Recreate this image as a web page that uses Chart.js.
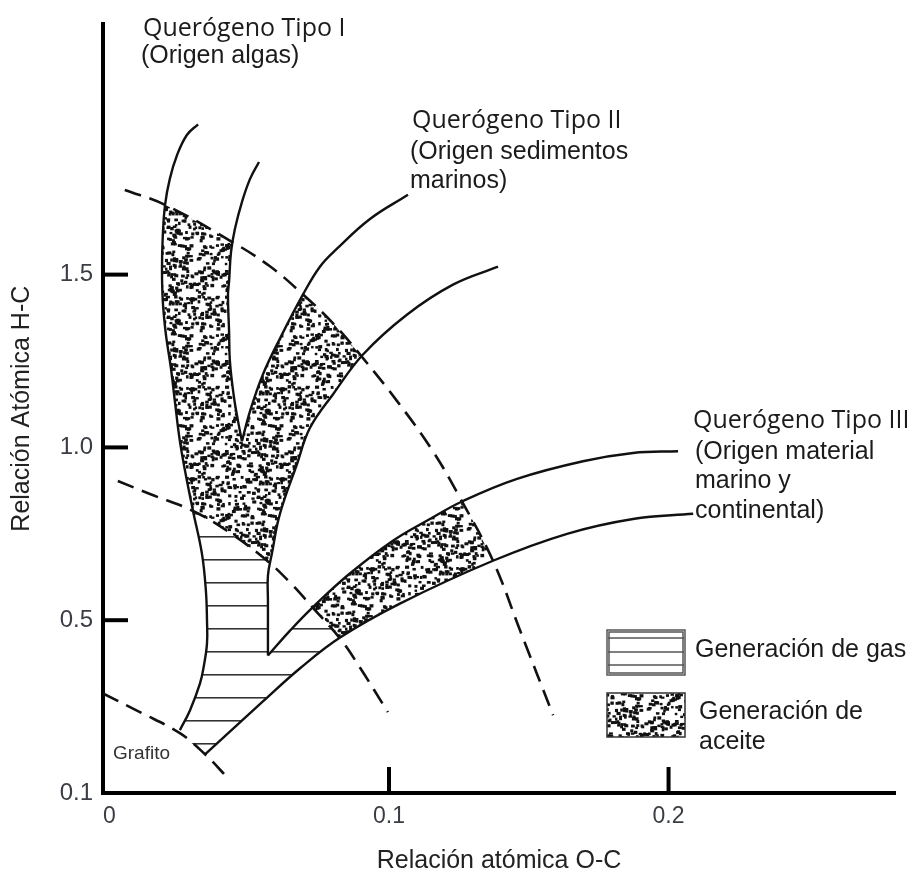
<!DOCTYPE html>
<html>
<head>
<meta charset="utf-8">
<script src="https://cdn.jsdelivr.net/npm/chart.js@4.4.1/dist/chart.umd.min.js"></script>
<style>
body{margin:0;background:#fff;overflow:hidden}
canvas{display:block}
</style>
</head>
<body>
<canvas id="myChart" width="911" height="874"></canvas>
<script>
// ticks (bottom of the H-C axis is printed as 0.1 in the original)
var xTickVals=[0,0.1,0.2];
var xTickLabels=['0','0.1','0.2'];
var yTickVals=[0,0.5,1.0,1.5];
var yTickLabels=['0.1','0.5','1.0','1.5'];

// evolution paths, points are [O-C, H-C]
var typeILeft=[[0.0317,1.935],[0.0277,1.904],[0.0242,1.846],[0.0216,1.777],[0.0199,1.702],[0.0191,1.615],[0.0188,1.517],[0.0191,1.422],[0.0202,1.327],[0.0220,1.229],[0.0234,1.134],[0.0252,1.018],[0.0274,0.917],[0.0299,0.816],[0.0331,0.692],[0.0345,0.586],[0.0349,0.499],[0.0349,0.433],[0.0338,0.369],[0.0324,0.317],[0.0288,0.239],[0.0252,0.182]];
var typeIRight=[[0.0535,1.826],[0.0503,1.777],[0.0474,1.710],[0.0449,1.633],[0.0435,1.566],[0.0428,1.480],[0.0424,1.442],[0.0428,1.335],[0.0431,1.249],[0.0445,1.148],[0.0460,1.076],[0.0474,1.018]];
var typeIILeft=[[0.1068,1.731],[0.0932,1.661],[0.0814,1.575],[0.0753,1.523],[0.0692,1.442],[0.0610,1.315],[0.0549,1.211],[0.0503,1.105],[0.0474,1.018]];
var typeIIRight=[[0.1390,1.523],[0.1229,1.471],[0.1064,1.384],[0.0907,1.269],[0.0800,1.154],[0.0717,1.056],[0.0671,0.952],[0.0610,0.808],[0.0581,0.692],[0.0567,0.629],[0.0567,0.557],[0.0567,0.398]];
var typeIIIUpper=[[0.0567,0.398],[0.0646,0.470],[0.0728,0.538],[0.0860,0.635],[0.1014,0.730],[0.1140,0.790],[0.1265,0.845],[0.1458,0.909],[0.1694,0.960],[0.1873,0.984],[0.2034,0.989]];
var typeIIILower=[[0.0342,0.112],[0.0549,0.265],[0.0682,0.361],[0.0825,0.450],[0.1039,0.548],[0.1372,0.672],[0.1637,0.750],[0.1873,0.793],[0.2088,0.808]];

// dashed maturity lines
var upperDash=[[0.0055,1.745],[0.0199,1.702],[0.0438,1.595],[0.0574,1.524],[0.0689,1.445],[0.0800,1.359],[0.0896,1.269],[0.1029,1.134],[0.1157,0.989],[0.1254,0.854],[0.1372,0.672],[0.1469,0.470],[0.1587,0.225]];
var midDash=[[0.0030,0.903],[0.0145,0.865],[0.0299,0.816],[0.0431,0.753],[0.0564,0.672],[0.0646,0.609],[0.0728,0.536],[0.0825,0.447],[0.0896,0.363],[0.0996,0.234]];
var lowDash=[[-0.0023,0.288],[0.0109,0.234],[0.0252,0.173],[0.0342,0.112],[0.0424,0.043]];

// zones
var oilZoneA=[[0.0199,1.702],[0.0320,1.650],[0.0438,1.595],[0.0435,1.566],[0.0428,1.480],[0.0424,1.422],[0.0428,1.335],[0.0431,1.249],[0.0445,1.148],[0.0460,1.076],[0.0474,1.018],[0.0503,1.105],[0.0549,1.211],[0.0610,1.315],[0.0692,1.442],[0.0800,1.359],[0.0896,1.269],[0.0800,1.154],[0.0717,1.056],[0.0671,0.952],[0.0610,0.808],[0.0581,0.692],[0.0564,0.672],[0.0431,0.753],[0.0299,0.816],[0.0274,0.917],[0.0252,1.018],[0.0234,1.134],[0.0220,1.229],[0.0202,1.327],[0.0191,1.422],[0.0188,1.517],[0.0191,1.615]];
var oilZoneB=[[0.0728,0.538],[0.0860,0.635],[0.1014,0.730],[0.1140,0.790],[0.1265,0.845],[0.1315,0.764],[0.1372,0.672],[0.1207,0.614],[0.1039,0.548],[0.0825,0.450],[0.0778,0.493]];
var gasZone=[[0.0299,0.816],[0.0431,0.753],[0.0564,0.672],[0.0567,0.398],[0.0646,0.470],[0.0728,0.538],[0.0778,0.493],[0.0825,0.450],[0.0682,0.361],[0.0549,0.265],[0.0342,0.112],[0.0252,0.173],[0.0288,0.239],[0.0324,0.317],[0.0338,0.369],[0.0349,0.433],[0.0349,0.499],[0.0345,0.586],[0.0331,0.692]];

var canvas=document.getElementById('myChart');
var mainCtx=canvas.getContext('2d');

function pts(arr){
  return arr.map(function(p){ return {x:p[0],y:p[1]}; });
}

// dotted texture for the oil zones
function stipple(){
  var n=90;
  var c=document.createElement('canvas'); c.width=n; c.height=n;
  var g=c.getContext('2d');
  g.fillStyle='#fff'; g.fillRect(0,0,n,n);
  g.fillStyle='#111';
  var s=12345;
  function rnd(){ s=(s*16807)%2147483647; return s/2147483647; }
  for(var i=0;i<400;i++){
    var x=rnd()*n, y=rnd()*n, w=2.4+rnd()*1.8, h=2.2+rnd()*1.2;
    g.fillRect(x,y,w,h); g.fillRect(x-n,y,w,h); g.fillRect(x,y-n,w,h); g.fillRect(x-n,y-n,w,h);
  }
  return mainCtx.createPattern(c,'repeat');
}

function hatch(){
  var c=document.createElement('canvas'); c.width=6; c.height=23;
  var g=c.getContext('2d');
  g.fillStyle='#fff'; g.fillRect(0,0,6,23);
  g.fillStyle='#333'; g.fillRect(0,7,6,1);
  g.fillStyle='#888'; g.fillRect(0,8,6,1);
  return mainCtx.createPattern(c,'repeat');
}

var dots=stipple();
var lines=hatch();

function curve(arr,dashed){
  return {data:pts(arr),showLine:true,pointRadius:0,borderColor:'#111',borderWidth:dashed?2.6:2.4,
    borderDash:dashed?[17,9]:[],tension:0.4,fill:false};
}
function zone(arr,bg){
  return {data:pts(arr),showLine:true,pointRadius:0,borderWidth:0,backgroundColor:bg,fill:'shape',tension:0};
}

// texts drawn on top
var notes=[
  {t:'Querógeno Tipo I',x:143,y:29,f:'25px "Open Sans"'},
  {t:'(Origen algas)',x:141,y:56,f:'25px "Liberation Sans"'},
  {t:'Querógeno Tipo II',x:412,y:121,f:'25px "Open Sans"'},
  {t:'(Origen sedimentos',x:410,y:152,f:'25px "Liberation Sans"'},
  {t:'marinos)',x:410,y:181,f:'25px "Liberation Sans"'},
  {t:'Querógeno Tipo III',x:693,y:421,f:'25px "Open Sans"'},
  {t:'(Origen material',x:695,y:452,f:'25px "Liberation Sans"'},
  {t:'marino y',x:695,y:481,f:'25px "Liberation Sans"'},
  {t:'continental)',x:695,y:511,f:'25px "Liberation Sans"'},
  {t:'Grafito',x:113,y:754,f:'19px "Liberation Sans"',c:'#333'},
  {t:'Generación de gas',x:695,y:650,f:'25px "Liberation Sans"'},
  {t:'Generación de',x:699,y:712,f:'25px "Liberation Sans"'},
  {t:'aceite',x:699,y:742,f:'25px "Liberation Sans"'}
];

var decor={
  id:'decor',
  afterDraw:function(chart){
    var ctx=chart.ctx, xs=chart.scales.x, ys=chart.scales.y, a=chart.chartArea;
    ctx.save();
    // inward tick marks
    ctx.strokeStyle='#000'; ctx.lineWidth=4;
    yTickVals.slice(1).forEach(function(v){
      var p=ys.getPixelForValue(v);
      ctx.beginPath(); ctx.moveTo(a.left,p); ctx.lineTo(a.left+25,p); ctx.stroke();
    });
    xTickVals.slice(1).forEach(function(v){
      var p=xs.getPixelForValue(v);
      ctx.beginPath(); ctx.moveTo(p,a.bottom); ctx.lineTo(p,a.bottom-26); ctx.stroke();
    });
    // legend boxes
    ctx.strokeStyle='#555'; ctx.lineWidth=1.5;
    ctx.fillStyle='#fff'; ctx.fillRect(607,630,78,45);
    ctx.strokeRect(607,630,78,45);
    ctx.strokeRect(609,632,74,41);
    [638,652,665].forEach(function(y){
      ctx.beginPath(); ctx.moveTo(608,y); ctx.lineTo(684,y); ctx.stroke();
    });
    ctx.fillStyle=dots; ctx.fillRect(607,693,78,44);
    ctx.strokeStyle='#333'; ctx.strokeRect(607,693,78,44);
    // annotations
    ctx.textBaseline='middle'; ctx.textAlign='left';
    notes.forEach(function(n){
      ctx.font=n.f; ctx.fillStyle=n.c||'#1b1b1b';
      ctx.fillText(n.t,n.x,n.y);
    });
    ctx.restore();
  }
};

Chart.defaults.font.family='"Liberation Sans", Arial, sans-serif';

var myChart=new Chart(canvas,{
  type:'scatter',
  data:{
    datasets:[
      curve(typeILeft,false),
      curve(typeIRight,false),
      curve(typeIILeft,false),
      curve(typeIIRight,false),
      curve(typeIIIUpper,false),
      curve(typeIIILower,false),
      curve(upperDash,true),
      curve(midDash,true),
      curve(lowDash,true),
      zone(oilZoneA,dots),
      zone(oilZoneB,dots),
      zone(gasZone,lines)
    ]
  },
  options:{
    responsive:false,
    animation:false,
    layout:{padding:{top:22,right:16,left:0,bottom:0}},
    plugins:{
      legend:{display:false},
      tooltip:{enabled:false},
      filler:{drawTime:'beforeDatasetsDraw'}
    },
    scales:{
      x:{
        type:'linear',min:-0.0023,max:0.281,bounds:'data',
        grid:{display:false,drawTicks:false},
        border:{display:true,color:'#000',width:4},
        afterBuildTicks:function(ax){ ax.ticks=xTickVals.map(function(v){ return {value:v}; }); },
        afterFit:function(ax){ ax.height=81; },
        ticks:{padding:10,color:'#3a3d44',font:{size:23},
          callback:function(v){ return xTickLabels[xTickVals.indexOf(v)]; }},
        title:{display:true,text:'Relación atómica O-C',color:'#222',
          font:{size:25,lineHeight:1},padding:{top:0,bottom:0}}
      },
      y:{
        type:'linear',min:0,max:2.224,bounds:'data',
        grid:{display:false,drawTicks:false},
        border:{display:true,color:'#000',width:4},
        afterBuildTicks:function(ax){ ax.ticks=yTickVals.map(function(v){ return {value:v}; }); },
        afterFit:function(ax){ ax.width=103; },
        ticks:{padding:10,color:'#3a3d44',font:{size:24},
          callback:function(v){ return yTickLabels[yTickVals.indexOf(v)]; }},
        title:{display:true,text:'Relación Atómica H-C',color:'#222',
          font:{size:25,lineHeight:1},padding:{top:10,bottom:0}}
      }
    }
  },
  plugins:[decor]
});
</script>
</body>
</html>
